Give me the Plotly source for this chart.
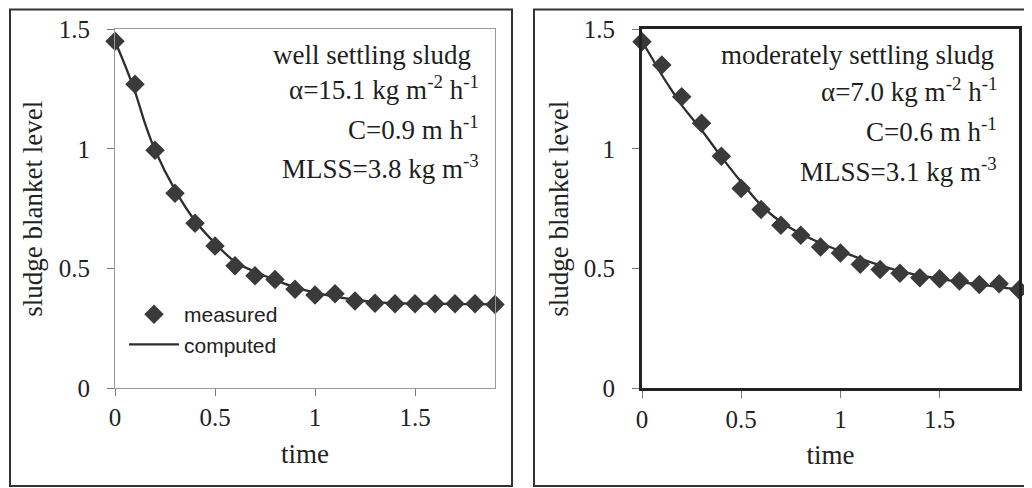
import plotly.graph_objects as go
from plotly.subplots import make_subplots

# page body adds an 8px margin; the figure is sized to fit the 1032x488 window
OFF = 8
W, H = 1032 - OFF, 488 - OFF


def px(x):
    return (x - OFF) / W


def py(y):
    return 1 - (y - OFF) / H


# ---- data ----
time_measured = [0, 0.1, 0.2, 0.3, 0.4, 0.5, 0.6, 0.7, 0.8, 0.9, 1.0,
                 1.1, 1.2, 1.3, 1.4, 1.5, 1.6, 1.7, 1.8, 1.9]
well_measured = [1.45, 1.27, 0.995, 0.815, 0.69, 0.595, 0.512, 0.47, 0.455, 0.414, 0.39,
                 0.395, 0.365, 0.355, 0.353, 0.353, 0.353, 0.353, 0.353, 0.35]
mod_measured = [1.448, 1.351, 1.218, 1.107, 0.97, 0.835, 0.747, 0.681, 0.639, 0.59, 0.565,
                0.518, 0.496, 0.481, 0.462, 0.458, 0.448, 0.434, 0.437, 0.412]

time_computed = [0, 0.05, 0.1, 0.15, 0.2, 0.3, 0.4, 0.5, 0.6, 0.7, 0.8, 0.9, 1.0,
                 1.1, 1.2, 1.3, 1.4, 1.5, 1.6, 1.7, 1.8, 1.9]
well_computed = [1.45, 1.35, 1.24, 1.107, 0.996, 0.829, 0.70, 0.606, 0.529, 0.487, 0.453, 0.422, 0.40,
                 0.383, 0.37, 0.36, 0.356, 0.354, 0.353, 0.352, 0.352, 0.351]
mod_computed = [1.45, 1.38, 1.309, 1.245, 1.183, 1.079, 0.967, 0.862, 0.765, 0.695, 0.646, 0.607, 0.573,
                0.542, 0.514, 0.49, 0.472, 0.458, 0.444, 0.434, 0.423, 0.414]

x_ticks = [0, 0.5, 1, 1.5]
x_ticklabels = ["0", "0.5", "1", "1.5"]
y_ticks = [0, 0.5, 1, 1.5]
y_ticklabels = ["0", "0.5", "1", "1.5"]

left_text = ["well settling sludg",
             "α=15.1 kg m<sup>-2</sup> h<sup>-1</sup>",
             "C=0.9 m h<sup>-1</sup>",
             "MLSS=3.8 kg m<sup>-3</sup>"]
right_text = ["moderately settling sludg",
              "α=7.0 kg m<sup>-2</sup> h<sup>-1</sup>",
              "C=0.6 m h<sup>-1</sup>",
              "MLSS=3.1 kg m<sup>-3</sup>"]

SERIF = "Liberation Serif"
SANS = "Liberation Sans"
MARK = "#3a3a3a"
LINE = "#2e2e2e"

fig = make_subplots(rows=1, cols=2)

fig.add_trace(go.Scatter(x=time_computed, y=well_computed, mode="lines", name="computed",
                         line=dict(color=LINE, width=2.3, shape="spline"), showlegend=True),
              row=1, col=1)
fig.add_trace(go.Scatter(x=time_measured, y=well_measured, mode="markers", name="measured",
                         marker=dict(symbol="diamond", size=15, color=MARK), showlegend=True,
                         cliponaxis=False),
              row=1, col=1)
fig.add_trace(go.Scatter(x=time_computed, y=mod_computed, mode="lines", name="computed",
                         line=dict(color=LINE, width=2.3, shape="spline"), showlegend=False),
              row=1, col=2)
fig.add_trace(go.Scatter(x=time_measured, y=mod_measured, mode="markers", name="measured",
                         marker=dict(symbol="diamond", size=15, color=MARK), showlegend=False,
                         cliponaxis=False),
              row=1, col=2)

ydom = [py(388.3), py(29.3)]
common_x = dict(range=[0, 1.9], tickvals=x_ticks, ticktext=x_ticklabels, ticks="outside",
                ticklen=7, tickwidth=1, tickcolor="#777", showgrid=False, zeroline=False,
                tickfont=dict(family=SERIF, size=25, color="#222"), mirror=True, automargin=False,
                title=dict(text="time", font=dict(family=SERIF, size=27, color="#222"), standoff=13))
common_y = dict(range=[0, 1.5], tickvals=y_ticks, ticktext=y_ticklabels, ticks="outside",
                ticklen=7, tickwidth=1, tickcolor="#777", showgrid=False, zeroline=False,
                tickfont=dict(family=SERIF, size=25, color="#222"), mirror=True, automargin=False,
                ticklabelstandoff=12,
                title=dict(text="sludge blanket level", font=dict(family=SERIF, size=27, color="#222"),
                           standoff=8))

fig.update_xaxes(common_x)
fig.update_yaxes(common_y)
fig.update_xaxes(domain=[px(115), px(495)], showline=True, linecolor="#999", linewidth=1, row=1, col=1)
fig.update_xaxes(domain=[px(642), px(1019)], showline=True, linecolor="#222", linewidth=3, row=1, col=2)
fig.update_yaxes(domain=ydom, showline=True, linecolor="#999", linewidth=1, row=1, col=1)
fig.update_yaxes(domain=ydom, showline=True, linecolor="#222", linewidth=3, row=1, col=2)

annos = []
# left panel texts
annos.append(dict(x=px(372), y=py(55), xref="paper", yref="paper", text=left_text[0],
                  showarrow=False, xanchor="center", yanchor="middle"))
for t, yy in zip(left_text[1:], [88, 128, 167]):
    annos.append(dict(x=px(481), y=py(yy), xref="paper", yref="paper", text=t,
                      showarrow=False, xanchor="right", yanchor="middle"))
# right panel texts
annos.append(dict(x=px(857), y=py(55), xref="paper", yref="paper", text=right_text[0],
                  showarrow=False, xanchor="center", yanchor="middle"))
for t, yy in zip(right_text[1:], [90, 130, 170]):
    annos.append(dict(x=px(999), y=py(yy), xref="paper", yref="paper", text=t,
                      showarrow=False, xanchor="right", yanchor="middle"))
for a in annos:
    a["font"] = dict(family=SERIF, size=27, color="#1e1e1e")

shapes = [
    dict(type="rect", xref="paper", yref="paper", x0=px(10), x1=px(512), y0=py(486), y1=py(9.5),
         line=dict(color="#333", width=2)),
    dict(type="rect", xref="paper", yref="paper", x0=px(534), x1=px(1030), y0=py(486), y1=py(9.5),
         line=dict(color="#333", width=2)),
]

fig.update_layout(
    width=W, height=H, margin=dict(l=0, r=0, t=0, b=0, autoexpand=False),
    paper_bgcolor="white", plot_bgcolor="white",
    annotations=annos, shapes=shapes,
    legend=dict(x=px(124), y=py(294), xanchor="left", yanchor="top",
                font=dict(family=SANS, size=21, color="#222"), bgcolor="rgba(0,0,0,0)",
                traceorder="reversed", itemwidth=50, tracegroupgap=0),
)

fig.write_html("out.html")
